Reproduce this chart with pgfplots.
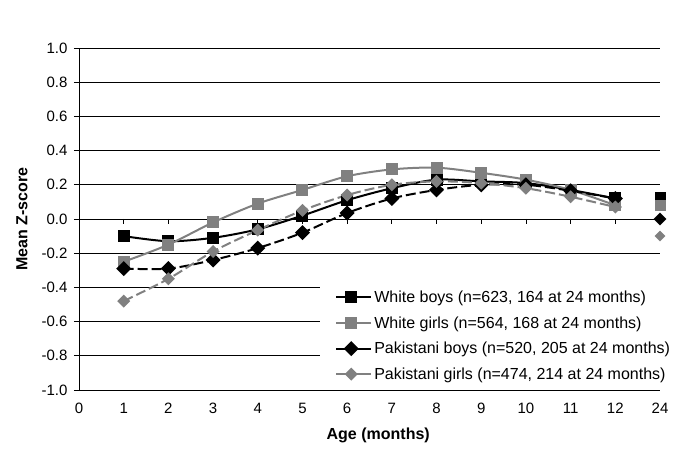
\documentclass[border=0pt]{standalone}
\usepackage{pgfplots}
\pgfplotsset{compat=1.18}
\usepackage{fontspec}
\setmainfont{Liberation Sans}
\definecolor{sgray}{RGB}{128,128,128}
\begin{document}
\begin{tikzpicture}
\useasboundingbox (-79bp,-63bp) rectangle (614bp,390bp);
\begin{axis}[
  at={(0,0)}, anchor=south west,
  scale only axis, width=581bp, height=342bp,
  xmin=0, xmax=13, ymin=-1, ymax=1,
  axis lines*=left,
  axis line style={black, line width=0.8bp},
  xtick={0,...,13},
  xticklabels={0,1,2,3,4,5,6,7,8,9,10,11,12,24},
  ytick={-1,-0.8,-0.6,-0.4,-0.2,0,0.2,0.4,0.6,0.8,1},
  yticklabels={-1.0,-0.8,-0.6,-0.4,-0.2,0.0,0.2,0.4,0.6,0.8,1.0},
  xtick style={draw=none},
  ytick style={black, line width=0.8bp},
  tick align=outside, major tick length=5bp,
  ymajorgrids, grid style={black, line width=0.8bp},
  tick label style={font=\fontsize{15bp}{17bp}\selectfont},
  xticklabel style={yshift=-5bp},
  yticklabel style={xshift=-3bp},
  xlabel={\textbf{Age (months)}},
  ylabel={\textbf{Mean Z-score}},
  label style={font=\fontsize{16bp}{19bp}\selectfont},
  xlabel style={at={(axis description cs:0.515,0)}, anchor=center, yshift=-45bp},
  ylabel style={at={(axis description cs:0,0.5)}, anchor=center, yshift=57bp},
  clip=false,
  legend style={at={(0.415,0.305)}, anchor=north west, draw=none, fill=white,
    font=\fontsize{16bp}{19bp}\selectfont, inner xsep=15bp, inner ysep=3bp,
    row sep=8.5bp, cells={anchor=west}},
  legend image code/.code={
    \draw[#1, solid] (0bp,0bp) -- (30bp,0bp);
    \draw[#1, solid, mark repeat=2, mark phase=2] plot coordinates {(0bp,0bp) (15bp,0bp) (30bp,0bp)};
    \path (0bp,0bp) -- (35bp,0bp);
  },
]
% x axis line at y = 0
\draw[black, line width=0.8bp] (axis cs:0,0) -- (axis cs:13,0);
\pgfplotsinvokeforeach{0,...,12}{\draw[black, line width=0.8bp] (axis cs:#1,0) -- ([yshift=-5bp]axis cs:#1,0);}

\addplot[black, line width=2bp, smooth, tension=0.5, mark=square*, mark size=5bp, mark options={solid}]
  coordinates {(1,-0.10) (2,-0.13) (3,-0.11) (4,-0.06) (5,0.02) (6,0.11) (7,0.18) (8,0.23) (9,0.22) (10,0.21) (11,0.17) (12,0.12)};
\addlegendentry{White boys (n=623, 164 at 24 months)}
\addplot[sgray, line width=2bp, smooth, tension=0.5, mark=square*, mark size=5bp, mark options={solid}]
  coordinates {(1,-0.25) (2,-0.15) (3,-0.02) (4,0.09) (5,0.17) (6,0.25) (7,0.29) (8,0.30) (9,0.27) (10,0.23) (11,0.17) (12,0.08)};
\addlegendentry{White girls (n=564, 168 at 24 months)}
\addplot[black, line width=2bp, smooth, tension=0.5, dash pattern=on 10bp off 4bp, mark=square*, mark size=4.3bp, mark options={solid, rotate=45}]
  coordinates {(1,-0.29) (2,-0.29) (3,-0.24) (4,-0.17) (5,-0.08) (6,0.035) (7,0.12) (8,0.17) (9,0.20) (10,0.20) (11,0.165) (12,0.12)};
\addlegendentry{Pakistani boys (n=520, 205 at 24 months)}
\addplot[sgray, line width=2bp, smooth, tension=0.5, dash pattern=on 10bp off 4bp, mark=square*, mark size=3.6bp, mark options={solid, rotate=45}]
  coordinates {(1,-0.48) (2,-0.35) (3,-0.19) (4,-0.065) (5,0.05) (6,0.14) (7,0.20) (8,0.22) (9,0.21) (10,0.18) (11,0.13) (12,0.07)};
\addlegendentry{Pakistani girls (n=474, 214 at 24 months)}

% 24 months
\addplot[black, only marks, mark=square*, mark size=5bp, forget plot] coordinates {(13,0.13)};
\addplot[sgray, only marks, mark=square*, mark size=5bp, forget plot] coordinates {(13,0.08)};
\addplot[black, only marks, mark=square*, mark size=4.3bp, mark options={rotate=45}, forget plot] coordinates {(13,0.00)};
\addplot[sgray, only marks, mark=square*, mark size=3.6bp, mark options={rotate=45}, forget plot] coordinates {(13,-0.10)};
\end{axis}
\end{tikzpicture}
\end{document}
